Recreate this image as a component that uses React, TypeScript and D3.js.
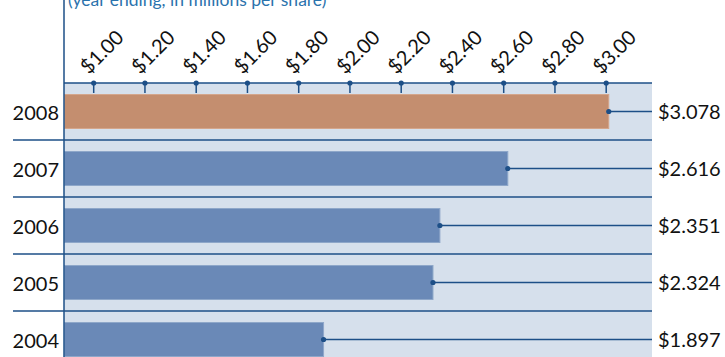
import React from "react";
import * as d3 from "d3";

const years = ["2008", "2007", "2006", "2005", "2004"];
const values = [3.078, 2.616, 2.351, 2.324, 1.897];
const valueLabels = ["$3.078", "$2.616", "$2.351", "$2.324", "$1.897"];
const tickValues = [1.0, 1.2, 1.4, 1.6, 1.8, 2.0, 2.2, 2.4, 2.6, 2.8, 3.0];
const tickLabels = ["$1.00", "$1.20", "$1.40", "$1.60", "$1.80", "$2.00", "$2.20", "$2.40", "$2.60", "$2.80", "$3.00"];
const highlightYear = "2008";
const barCap = 3.01;
const title = "(year ending, in millions per share)";

const W = 725;
const H = 357;
const axisX = 64;
const plotRight = 652;
const plotTop = 83;
const rowStep = 57;

const FONT = "Lato, 'Open Sans', sans-serif";
const DARK = "#1d4f87";
const BG = "#d6e0ec";
const BLUE = "#6a89b7";
const BLUE_EDGE = "#8ea7c9";
const ORANGE = "#c48e6f";
const ORANGE_EDGE = "#d4a68c";
const TITLE_COLOR = "#2b73ad";

export default function App() {
  const x = d3.scaleLinear().domain([1, 3]).range([93.7, 606.2]);
  const y = d3
    .scaleBand<string>()
    .domain(years)
    .range([plotTop, plotTop + rowStep * years.length])
    .paddingInner(0.386)
    .paddingOuter(0.193);
  const bw = y.bandwidth();

  return (
    <svg
      width={W}
      height={H}
      style={{ position: "absolute", left: 0, top: 0, display: "block" }}
      fontFamily={FONT}
    >
      <rect x={0} y={0} width={W} height={H} fill="#fff" />
      {/* plot background */}
      <rect x={axisX} y={plotTop} width={plotRight - axisX} height={H - plotTop} fill={BG} />

      {/* title */}
      <text x={68} y={5.5} fontSize={17.5} fill={TITLE_COLOR}>
        {title}
      </text>

      {/* bars */}
      {years.map((yr, i) => {
        const v = Math.min(values[i], barCap);
        const by = y(yr) as number;
        const hl = yr === highlightYear;
        return (
          <rect
            key={yr}
            x={axisX + 0.5}
            y={by + 0.5}
            width={x(v) - axisX - 0.5}
            height={bw - 1}
            fill={hl ? ORANGE : BLUE}
            stroke={hl ? ORANGE_EDGE : BLUE_EDGE}
            strokeWidth={1}
          />
        );
      })}

      {/* row dividers */}
      {years.slice(1).map((yr) => {
        const step = y.step();
        const yy = (y(yr) as number) - y.paddingOuter() * step;
        return <line key={"d" + yr} x1={13} x2={plotRight} y1={yy} y2={yy} stroke={DARK} strokeWidth={1.5} />;
      })}
      <line x1={axisX} x2={plotRight} y1={plotTop} y2={plotTop} stroke={DARK} strokeWidth={1.5} />

      {/* leader lines, dots and labels */}
      {years.map((yr, i) => {
        const v = Math.min(values[i], barCap);
        const cy = (y(yr) as number) + bw / 2;
        return (
          <g key={"l" + yr}>
            <line x1={x(v)} x2={plotRight} y1={cy} y2={cy} stroke={DARK} strokeWidth={1.5} />
            <circle cx={x(v)} cy={cy} r={2.6} fill={DARK} />
            <text x={658} y={cy + 7} fontSize={20} fill="#111">
              {valueLabels[i]}
            </text>
            <text x={59} y={cy + 8.5} fontSize={20} fill="#111" textAnchor="end">
              {yr}
            </text>
          </g>
        );
      })}

      {/* ticks */}
      {tickValues.map((t, i) => (
        <g key={"t" + i}>
          <line x1={x(t)} x2={x(t)} y1={plotTop} y2={plotTop + 10} stroke={DARK} strokeWidth={1.5} />
          <circle cx={x(t)} cy={plotTop} r={2.6} fill={DARK} />
          <text
            transform={`translate(${x(t) - 5},${75}) rotate(-45)`}
            fontSize={20}
            fill="#111"
          >
            {tickLabels[i]}
          </text>
        </g>
      ))}

      {/* vertical axis */}
      <line x1={axisX} x2={axisX} y1={0} y2={H} stroke={DARK} strokeWidth={1.5} />
    </svg>
  );
}
